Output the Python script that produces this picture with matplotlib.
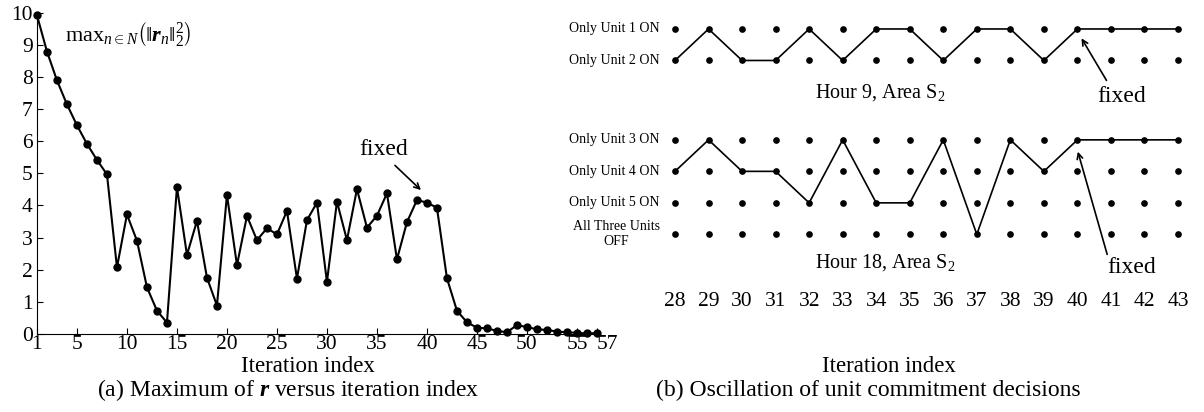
import matplotlib.pyplot as plt

# Times-like fonts for everything
plt.rcParams['font.family'] = ['Liberation Serif', 'DejaVu Serif']
plt.rcParams['mathtext.fontset'] = 'custom'
plt.rcParams['mathtext.rm'] = 'Liberation Serif'
plt.rcParams['mathtext.it'] = 'Liberation Serif:italic'
plt.rcParams['mathtext.bf'] = 'Liberation Serif:bold'
plt.rcParams['mathtext.bfit'] = 'Liberation Serif:bold:italic'

# (a) max residual per iteration
iters = list(range(1, 58))
r_max = [9.93, 8.8, 7.9, 7.15, 6.5, 5.92, 5.42, 4.97, 2.07, 3.72,
         2.9, 1.45, 0.72, 0.35, 4.57, 2.46, 3.52, 1.75, 0.88, 4.33,
         2.14, 3.67, 2.92, 3.29, 3.1, 3.83, 1.72, 3.54, 4.09, 1.62,
         4.12, 2.92, 4.51, 3.31, 3.68, 4.38, 2.32, 3.48, 4.17, 4.09,
         3.93, 1.73, 0.72, 0.36, 0.19, 0.17, 0.09, 0.05, 0.27, 0.21,
         0.14, 0.12, 0.07, 0.05, 0.03, 0.01, 0.02]
a_xticks = [1, 5, 10, 15, 20, 25, 30, 35, 40, 45, 50, 55, 57]

# (b) unit commitment decisions, iterations 28..43
uc_iters = list(range(28, 44))
hour9_rows = ['Only Unit 1 ON', 'Only Unit 2 ON']
hour9_state = [1, 0, 1, 1, 0, 1, 0, 0, 1, 0, 0, 1, 0, 0, 0, 0]
hour18_rows = ['Only Unit 3 ON', 'Only Unit 4 ON', 'Only Unit 5 ON',
               'All Three Units\nOFF']
hour18_state = [1, 0, 1, 1, 2, 0, 2, 2, 0, 3, 0, 1, 0, 0, 0, 0]
fixed_iter = 40

BIG = 17
TICK = 15.5

fig = plt.figure(figsize=(12.04, 4.12), dpi=100)

# ---------------- left panel ----------------
ax1 = fig.add_axes([0.0307, 0.1898, 0.4651, 0.7786])
ax1.plot(iters, r_max, color='black', lw=1.5, marker='o', markersize=5,
         clip_on=False, zorder=3)
ax1.set_xlim(1, 57)
ax1.set_ylim(0, 10)
ax1.set_xticks(a_xticks)
ax1.set_yticks(range(0, 11))
ax1.spines['top'].set_visible(False)
ax1.spines['right'].set_visible(False)
ax1.tick_params(direction='in', length=4, labelsize=TICK, pad=3)
ax1.tick_params(axis='x', pad=1)
ax1.get_xticklabels()[-1].set_ha('left')
ax1.text(3.8, 9.3, r'$\mathrm{max}_{n\in N}\left(\Vert\mathbfit{r}_n\Vert_2^2\right)$',
         fontsize=16, va='center', ha='left')
ax1.annotate('', xy=(39.6, 4.42), xytext=(36.6, 5.31),
             arrowprops=dict(arrowstyle='->', lw=1.2, color='black'))
ax1.text(35.7, 5.75, 'fixed', fontsize=BIG, ha='center', va='center')

fig.text(308 / 1204, 1 - 366 / 412, 'Iteration index', fontsize=16.5,
         ha='center', va='center')
fig.text(288 / 1204, 1 - 390 / 412,
         r'(a) Maximum of $\mathbfit{r}$ versus iteration index',
         fontsize=BIG, ha='center', va='center')

# ---------------- right panel ----------------
ax2 = fig.add_axes([600 / 1204, 0.3083, 604 / 1204, 0.6596])
ax2.set_xlim(25.763, 43.775)
ax2.set_ylim(8.127, -0.5)
for s in ax2.spines.values():
    s.set_visible(False)
ax2.set_yticks([])
ax2.set_xticks(uc_iters)
ax2.tick_params(axis='x', length=0, labelsize=TICK, pad=5)

row_gap = 2.52
groups = [(hour9_rows, hour9_state, 0.0),
          (hour18_rows, hour18_state, 1 + row_gap)]
for rows, state, y0 in groups:
    ys = [y0 + i for i in range(len(rows))]
    for lab, y in zip(rows, ys):
        ax2.plot(uc_iters, [y] * len(uc_iters), linestyle='none', marker='o',
                 markersize=3.8, color='black', clip_on=False)
        ax2.text(uc_iters[0] - 0.45, y, lab, fontsize=10, ha='right',
                 va='center', multialignment='center', linespacing=1.2)
    ax2.plot(uc_iters, [ys[k] for k in state], color='black', lw=1.2,
             clip_on=False)

ax2.text(34.11, 2.03, r'Hour 9, Area S$_2$', fontsize=14.5, ha='center',
         va='center')
ax2.text(34.26, 7.4, r'Hour 18, Area S$_2$', fontsize=14.5, ha='center',
         va='center')

ax2.annotate('', xy=(fixed_iter + 0.08, 0.22), xytext=(40.91, 1.71),
             arrowprops=dict(arrowstyle='->', lw=1.2, color='black'))
ax2.text(41.33, 2.13, 'fixed', fontsize=BIG, ha='center', va='center')
ax2.annotate('', xy=(fixed_iter - 0.01, 1 + row_gap + 0.29),
             xytext=(40.91, 7.24),
             arrowprops=dict(arrowstyle='->', lw=1.2, color='black'))
ax2.text(41.63, 7.56, 'fixed', fontsize=BIG, ha='center', va='center')

fig.text(889 / 1204, 1 - 366 / 412, 'Iteration index', fontsize=16.5,
         ha='center', va='center')
fig.text(868 / 1204, 1 - 390 / 412,
         '(b) Oscillation of unit commitment decisions',
         fontsize=BIG, ha='center', va='center')

fig.savefig('out.png', dpi=100)
